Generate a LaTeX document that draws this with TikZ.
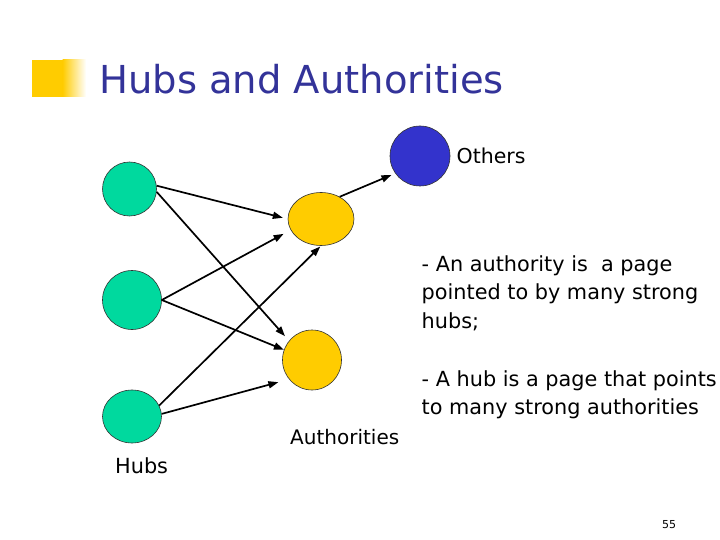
\documentclass[tikz,border=0pt]{standalone}
\usepackage{fontspec}
\setmainfont{DejaVu Sans}
\usetikzlibrary{arrows.meta,shapes.geometric}
\definecolor{hubgreen}{RGB}{0,217,158}
\definecolor{authyellow}{RGB}{255,204,0}
\definecolor{othblue}{RGB}{51,51,204}
\definecolor{titleblue}{RGB}{51,51,153}
\tikzset{
  page/.style={ellipse, draw=black!80, line width=0.6pt, inner sep=0pt},
  hubnode/.style={page, fill=hubgreen},
  authnode/.style={page, fill=authyellow},
  othnode/.style={page, fill=othblue},
  arr/.style={line width=1.7pt, -{Triangle[length=10pt,width=7pt]}},
  lbl/.style={inner sep=0pt, anchor=base west, font=\fontsize{20.5}{24}\selectfont},
}
\begin{document}
\begin{tikzpicture}[x=1pt,y=-1pt]
\useasboundingbox (0,0) rectangle (720,540);
% title decoration
\fill[authyellow] (32,60) rectangle (63,97);
\shade[left color=authyellow, right color=white] (62.5,60) rectangle (86,97);
\node[inner sep=0pt, anchor=base west, text=titleblue, font=\fontsize{38.5}{44}\selectfont] (title) at (99,93.5) {Hubs and Authorities};
% nodes
\node[hubnode, minimum width=54pt, minimum height=54pt] (h1) at (129.5,189) {};
\node[hubnode, minimum width=59pt, minimum height=59pt] (h2) at (132,300) {};
\node[hubnode, minimum width=59pt, minimum height=53pt] (h3) at (132,416.5) {};
\node[authnode, minimum width=66pt, minimum height=53pt] (a1) at (321,219) {};
\node[authnode, minimum width=59pt, minimum height=60pt] (a2) at (312,360) {};
\node[othnode, minimum width=60pt, minimum height=60pt] (o) at (420,156) {};
% arrows
\draw[arr, shorten >=5pt] (h1.7) -- (a1.west);
\draw[arr, shorten >=6pt] (h1.-6) -- (a2.140);
\draw[arr, shorten >=8pt] (h2.east) -- (a1.200);
\draw[arr] (h2.east) -- (a2.160);
\draw[arr, shorten >=1pt] (h3.22) -- (a1.south);
\draw[arr, shorten >=11pt] (h3.5) -- (a2.220);
\draw[arr, shorten >=4pt] (a1.50) -- (o.215);
% labels
\node[lbl] (oth) at (456.5,163.3) {Others};
\node[lbl, font=\fontsize{20}{24}\selectfont] (auth) at (290,444) {Authorities};
\node[lbl, font=\fontsize{20.8}{24}\selectfont] (hubs) at (115,473.3) {Hubs};
\node[lbl, align=left, font=\fontsize{20.8}{28.7}\selectfont] (t1) at (421.5,328.4) {- An authority is\ \ a page\\pointed to by many strong\\hubs;};
\node[lbl, align=left, font=\fontsize{20.8}{28.7}\selectfont] (t2) at (421.5,414.7) {- A hub is a page that points\\to many strong authorities};
\node[inner sep=0pt, anchor=base, font=\fontsize{11}{13}\selectfont] (num) at (669,528) {55};
\end{tikzpicture}
\end{document}
